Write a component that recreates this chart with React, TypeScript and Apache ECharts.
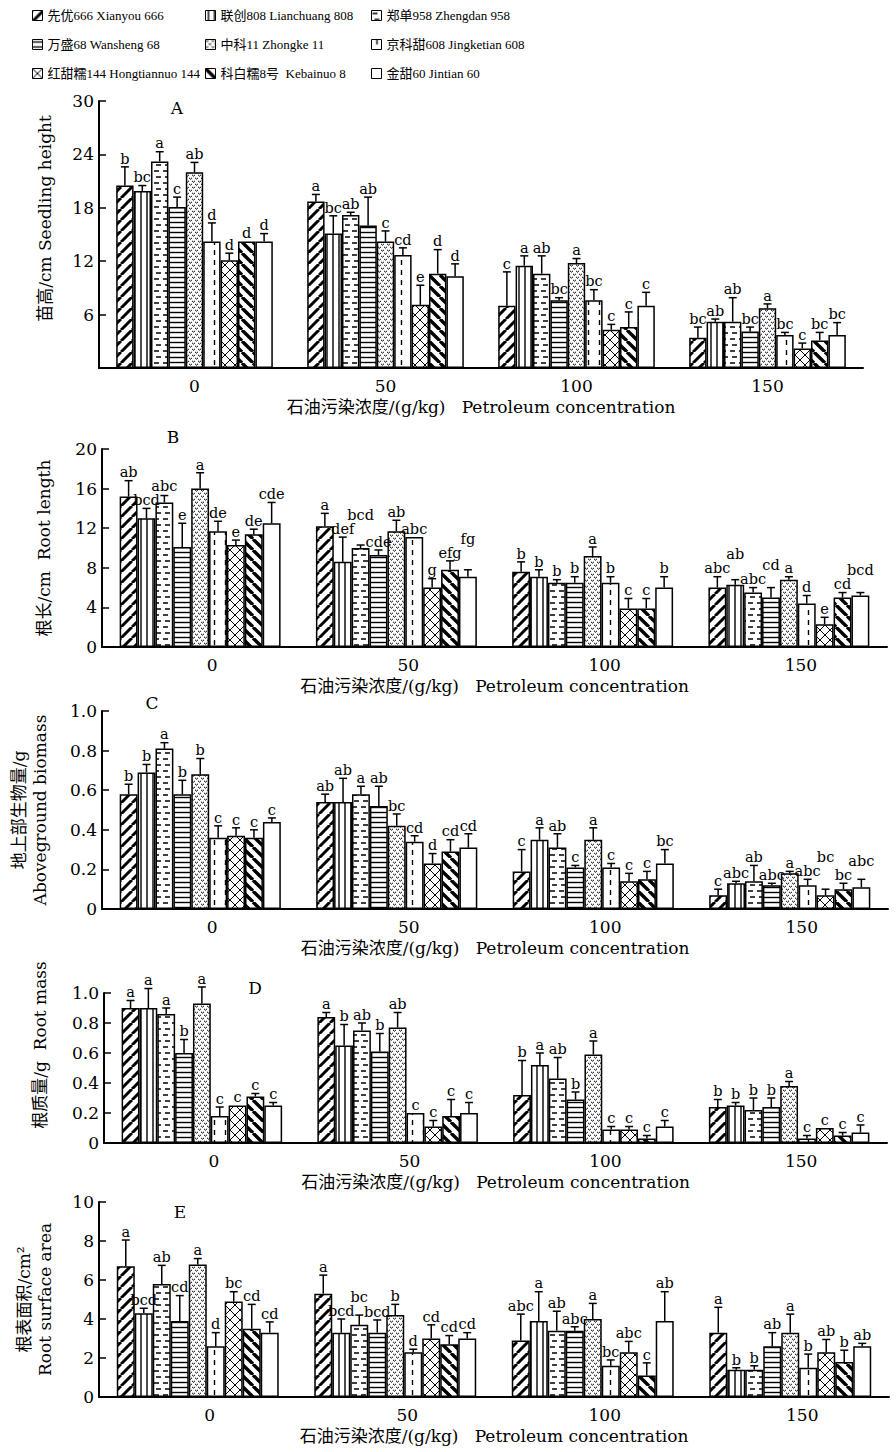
import React, { useEffect, useRef } from 'react';
import * as echarts from 'echarts';

// ---------------- data ----------------
const concentrations = ['0', '50', '100', '150'];
const varieties = [
  '先优666 Xianyou 666',
  '联创808 Lianchuang 808',
  '郑单958 Zhengdan 958',
  '万盛68 Wansheng 68',
  '中科11 Zhongke 11',
  '京科甜608 Jingketian 608',
  '红甜糯144 Hongtiannuo 144',
  '科白糯8号  Kebainuo 8',
  '金甜60 Jintian 60',
];
const patternKinds = ['diagR', 'vert', 'dash', 'horiz', 'wave', 'vdash', 'cross', 'diagL', 'none'];

// A: seedling height (cm), rows = concentration, cols = variety
const heightMean = [
  [20.5, 19.9, 23.2, 18.1, 22.0, 14.2, 12.1, 14.2, 14.2],
  [18.7, 15.1, 17.2, 16.0, 14.2, 12.7, 7.1, 10.6, 10.3],
  [7.0, 11.5, 10.6, 7.6, 11.8, 7.6, 4.3, 4.6, 7.0],
  [3.4, 5.2, 5.2, 4.1, 6.7, 3.7, 2.2, 3.1, 3.7],
];
const heightSE = [
  [2.1, 0.6, 1.1, 1.1, 1.1, 2.1, 0.8, 0, 0.9],
  [0.8, 2.0, 0.3, 3.2, 1.2, 0.8, 2.2, 2.7, 1.4],
  [3.8, 1.1, 2.0, 0.3, 0.5, 1.2, 0.6, 1.7, 1.5],
  [1.2, 0.3, 2.7, 0.5, 0.5, 0.3, 0.6, 0.9, 1.4],
];
const heightLetters = [
  ['b', 'bc', 'a', 'c', 'ab', 'd', 'd', 'd', 'd'],
  ['a', 'bc', 'ab', 'ab', 'c', 'cd', 'e', 'd', 'd'],
  ['c', 'a', 'ab', 'bc', 'a', 'bc', 'c', 'c', 'c'],
  ['bc', 'ab', 'ab', 'bc', 'a', 'bc', 'c', 'bc', 'bc'],
];

// B: root length (cm)
const rootLengthMean = [
  [15.2, 13.0, 14.6, 10.1, 16.0, 11.7, 10.3, 11.4, 12.5],
  [12.2, 8.6, 10.0, 9.3, 11.7, 11.1, 6.0, 7.8, 7.1],
  [7.6, 7.1, 6.5, 6.5, 9.2, 6.5, 3.9, 3.9, 6.0],
  [6.0, 6.3, 5.5, 5.0, 6.8, 4.4, 2.3, 5.0, 5.2],
];
const rootLengthSE = [
  [1.6, 1.0, 0.7, 2.4, 1.6, 1.0, 0.5, 0.5, 2.1],
  [1.3, 2.5, 0.3, 0.5, 1.1, 0, 0.9, 0.9, 0.7],
  [1.0, 0.7, 0.3, 0.6, 0.9, 0.6, 1.0, 1.0, 1.1],
  [1.1, 0.5, 0.5, 1.0, 0.3, 0.8, 0.7, 0.5, 0.3],
];
const rootLengthLetters = [
  ['ab', 'bcd', 'abc', 'e', 'a', 'de', 'e', 'de', 'cde'],
  ['a', 'def', 'bcd', 'cde', 'ab', 'abc', 'g', 'efg', 'fg'],
  ['b', 'b', 'b', 'b', 'a', 'b', 'c', 'c', 'b'],
  ['abc', 'ab', 'abc', 'cd', 'a', 'd', 'e', 'cd', 'bcd'],
];

// C: aboveground biomass (g)
const biomassMean = [
  [0.58, 0.69, 0.81, 0.58, 0.68, 0.36, 0.37, 0.36, 0.44],
  [0.54, 0.54, 0.58, 0.52, 0.42, 0.34, 0.23, 0.29, 0.31],
  [0.19, 0.35, 0.31, 0.21, 0.35, 0.21, 0.14, 0.15, 0.23],
  [0.07, 0.13, 0.14, 0.12, 0.18, 0.12, 0.07, 0.1, 0.11],
];
const biomassSE = [
  [0.05, 0.04, 0.03, 0.07, 0.08, 0.06, 0.04, 0.04, 0.02],
  [0.04, 0.12, 0.04, 0.1, 0.06, 0.03, 0.05, 0.06, 0.07],
  [0.11, 0.06, 0.07, 0.01, 0.06, 0.02, 0.04, 0.04, 0.07],
  [0.03, 0.01, 0.08, 0.01, 0.01, 0.03, 0.03, 0.03, 0.04],
];
const biomassLetters = [
  ['b', 'b', 'a', 'b', 'b', 'c', 'c', 'c', 'c'],
  ['ab', 'ab', 'a', 'ab', 'bc', 'cd', 'd', 'cd', 'cd'],
  ['c', 'a', 'ab', 'c', 'a', 'c', 'c', 'c', 'bc'],
  ['c', 'abc', 'ab', 'abc', 'a', 'abc', 'bc', 'bc', 'abc'],
];

// D: root mass (g)
const rootMassMean = [
  [0.9, 0.9, 0.86, 0.6, 0.93, 0.18, 0.25, 0.31, 0.25],
  [0.84, 0.65, 0.75, 0.61, 0.77, 0.2, 0.11, 0.18, 0.2],
  [0.32, 0.52, 0.43, 0.29, 0.59, 0.09, 0.09, 0.03, 0.11],
  [0.24, 0.25, 0.22, 0.24, 0.38, 0.03, 0.1, 0.05, 0.07],
];
const rootMassSE = [
  [0.05, 0.13, 0.04, 0.09, 0.11, 0.06, 0, 0.02, 0.02],
  [0.03, 0.14, 0.05, 0.12, 0.1, 0, 0.04, 0.11, 0.07],
  [0.23, 0.08, 0.14, 0.05, 0.09, 0.02, 0.02, 0.02, 0.04],
  [0.05, 0.02, 0.08, 0.06, 0.03, 0.02, 0, 0.02, 0.05],
];
const rootMassLetters = [
  ['a', 'a', 'a', 'b', 'a', 'c', 'c', 'c', 'c'],
  ['a', 'b', 'ab', 'b', 'ab', 'c', 'c', 'c', 'c'],
  ['b', 'a', 'ab', 'b', 'a', 'c', 'c', 'c', 'c'],
  ['b', 'b', 'b', 'b', 'a', 'c', 'c', 'c', 'c'],
];

// E: root surface area (cm2)
const rootAreaMean = [
  [6.7, 4.3, 5.8, 3.9, 6.8, 2.6, 4.9, 3.5, 3.3],
  [5.3, 3.3, 3.7, 3.3, 4.2, 2.3, 3.0, 2.7, 3.0],
  [2.9, 3.9, 3.4, 3.4, 4.0, 1.6, 2.3, 1.1, 3.9],
  [3.3, 1.4, 1.4, 2.6, 3.3, 1.5, 2.3, 1.8, 2.6],
];
const rootAreaSE = [
  [1.35, 0.25, 0.95, 1.3, 0.3, 0.7, 0.5, 1.25, 0.55],
  [0.95, 0.7, 0.5, 0.65, 0.55, 0.15, 0.7, 0.45, 0.3],
  [1.35, 1.5, 1.0, 0.2, 0.8, 0.3, 0.55, 0.65, 1.5],
  [1.3, 0.1, 0.2, 0.7, 0.95, 0.7, 0.65, 0.6, 0.15],
];
const rootAreaLetters = [
  ['a', 'bcd', 'ab', 'cd', 'a', 'd', 'bc', 'cd', 'cd'],
  ['a', 'bcd', 'bc', 'bcd', 'b', 'd', 'cd', 'cd', 'cd'],
  ['abc', 'a', 'ab', 'abc', 'a', 'bc', 'abc', 'c', 'ab'],
  ['a', 'b', 'b', 'ab', 'a', 'b', 'ab', 'b', 'ab'],
];

const xAxisName = '石油污染浓度/(g/kg)   Petroleum concentration';

// ---------------- styling ----------------
const SERIF = '"DejaVu Serif", "Noto Sans CJK SC", serif';
const LEGEND_FONT = '"Liberation Serif", "Noto Sans CJK SC", serif';
const BAR_FRAC = 0.82;
const LETTER_SIZE = 14.5;
const CHAR_W = 8.6;
const LINE_H = 14;

function makePattern(kind: string) {
  const c = document.createElement('canvas');
  let w = 10;
  let h = 10;
  if (kind === 'diagR' || kind === 'diagL') { w = 11; h = 11; }
  else if (kind === 'vert') { w = 6; h = 6; }
  else if (kind === 'horiz') { w = 6; h = 5; }
  else if (kind === 'dash') { w = 9; h = 12; }
  else if (kind === 'wave') { w = 6; h = 6; }
  else if (kind === 'vdash') { w = 11; h = 10; }
  else if (kind === 'cross') { w = 10; h = 10; }
  c.width = w;
  c.height = h;
  const ctx = c.getContext('2d') as CanvasRenderingContext2D;
  ctx.fillStyle = '#fff';
  ctx.fillRect(0, 0, w, h);
  ctx.strokeStyle = '#000';
  ctx.beginPath();
  switch (kind) {
    case 'diagR':
      ctx.lineWidth = 3;
      for (const k of [-1, 0, 1]) { ctx.moveTo(k * w, h); ctx.lineTo(k * w + w, 0); }
      break;
    case 'diagL':
      ctx.lineWidth = 3.4;
      for (const k of [-1, 0, 1]) { ctx.moveTo(k * w, 0); ctx.lineTo(k * w + w, h); }
      break;
    case 'vert':
      ctx.lineWidth = 1.4;
      ctx.moveTo(3, 0); ctx.lineTo(3, h);
      break;
    case 'horiz':
      ctx.lineWidth = 1.4;
      ctx.moveTo(0, 2.5); ctx.lineTo(w, 2.5);
      break;
    case 'dash':
      ctx.lineWidth = 1.3;
      ctx.moveTo(1, 3); ctx.lineTo(6, 3);
      ctx.moveTo(3, 9); ctx.lineTo(8, 9);
      break;
    case 'wave':
      ctx.lineWidth = 1;
      ctx.moveTo(0, 0.8); ctx.quadraticCurveTo(1.5, 3.6, 3, 0.8);
      ctx.moveTo(3, 3.8); ctx.quadraticCurveTo(4.5, 6.6, 6, 3.8);
      break;
    case 'vdash':
      ctx.lineWidth = 1.4;
      ctx.moveTo(5.5, 0); ctx.lineTo(5.5, 5);
      break;
    case 'cross':
      ctx.lineWidth = 1;
      ctx.moveTo(0, 0); ctx.lineTo(w, h);
      ctx.moveTo(w, 0); ctx.lineTo(0, h);
      break;
    default:
      break;
  }
  ctx.stroke();
  return { image: c, repeat: 'repeat', imageWidth: w, imageHeight: h };
}

export default function App() {
  const ref = useRef<HTMLDivElement>(null);

  useEffect(() => {
    if (!ref.current) return;
    const chart = echarts.init(ref.current, null, { renderer: 'svg' });
    const patterns = patternKinds.map(makePattern);

    const panels = [
      { mean: heightMean, se: heightSE, letters: heightLetters, max: 30, interval: 6, hideZero: true, dec: 0,
        yName: '苗高/cm Seedling height', left: 99, right: 33, top: 101, height: 267, nameGap: 44, namePad: [0, 0, 0, 32], labelPad: 0,
        tag: 'A', tx: 177, ty: 108 },
      { mean: rootLengthMean, se: rootLengthSE, letters: rootLengthLetters, max: 20, interval: 4, hideZero: false, dec: 0,
        yName: '根长/cm  Root length', left: 102, right: 9, top: 449, height: 198, nameGap: 48, namePad: 0, labelPad: [0, 0, 0, 24],
        tag: 'B', tx: 173, ty: 437 },
      { mean: biomassMean, se: biomassSE, letters: biomassLetters, max: 1, interval: 0.2, hideZero: false, dec: 1,
        yName: '地上部生物量/g\nAboveground biomass', left: 102, right: 8, top: 711, height: 198, nameGap: 52, namePad: 0, labelPad: [0, 0, 0, 24],
        tag: 'C', tx: 152, ty: 703 },
      { mean: rootMassMean, se: rootMassSE, letters: rootMassLetters, max: 1, interval: 0.2, hideZero: false, dec: 1,
        yName: '根质量/g  Root mass', left: 104, right: 9, top: 993, height: 150, nameGap: 54, namePad: [0, 0, 0, 46], labelPad: [0, 0, 0, 24],
        tag: 'D', tx: 255, ty: 988 },
      { mean: rootAreaMean, se: rootAreaSE, letters: rootAreaLetters, max: 10, interval: 2, hideZero: false, dec: 0,
        yName: '根表面积/cm²\nRoot surface area', left: 99, right: 7, top: 1202, height: 195, nameGap: 44, namePad: 0, labelPad: [0, 0, 0, 24],
        tag: 'E', tx: 180, ty: 1212 },
    ];

    const grids = panels.map((p) => ({ left: p.left, right: p.right, top: p.top, height: p.height, containLabel: false }));

    const xAxes = panels.map((p, pi) => ({
      type: 'category',
      gridIndex: pi,
      data: concentrations,
      axisLine: { lineStyle: { color: '#000', width: 2 } },
      axisTick: { inside: true, length: 6, lineStyle: { color: '#000', width: 1.5 } },
      axisLabel: { color: '#000', fontFamily: SERIF, fontSize: 17, margin: 9, padding: p.labelPad },
      name: xAxisName,
      nameLocation: 'middle',
      nameGap: 30,
      nameTextStyle: { color: '#000', fontFamily: SERIF, fontSize: 17 },
    }));

    const yAxes = panels.map((p, pi) => ({
      type: 'value',
      gridIndex: pi,
      min: 0,
      max: p.max,
      interval: p.interval,
      axisLine: { show: true, lineStyle: { color: '#000', width: 2 } },
      axisTick: { show: true, inside: true, length: 7, lineStyle: { color: '#000', width: 1.5 } },
      splitLine: { show: false },
      axisLabel: {
        color: '#000', fontFamily: SERIF, fontSize: 17, margin: 5,
        formatter: (v: number) => {
          if (v === 0) return p.hideZero ? '' : '0';
          return p.dec ? v.toFixed(p.dec) : String(v);
        },
      },
      name: p.yName,
      nameLocation: 'middle',
      nameRotate: 90,
      nameGap: p.nameGap,
      nameTextStyle: { color: '#000', fontFamily: SERIF, fontSize: 17, lineHeight: 21, padding: p.namePad },
    }));

    const series: any[] = [];
    panels.forEach((p, pi) => {
      varieties.forEach((name, vi) => {
        series.push({
          type: 'bar',
          name,
          xAxisIndex: pi,
          yAxisIndex: pi,
          data: concentrations.map((_, gi) => p.mean[gi][vi]),
          barWidth: (BAR_FRAC / 9 * 100).toFixed(3) + '%',
          barGap: '0%',
          silent: true,
          itemStyle: { color: patterns[vi], borderColor: '#000', borderWidth: 1.5 },
        });
      });
      const rows: number[][] = [];
      concentrations.forEach((_, gi) => {
        varieties.forEach((__, vi) => {
          rows.push([gi, vi, p.mean[gi][vi], p.mean[gi][vi] + p.se[gi][vi]]);
        });
      });

      // label bottoms per group, nudged upward only where two letter labels would collide
      const labelBottoms = (api: any, g: number) => {
        const band = api.size([1, 0])[0];
        const bw = (band * BAR_FRAC) / 9;
        const placed: { x: number; y: number; w: number }[] = [];
        for (let j = 0; j < varieties.length; j++) {
          const c = api.coord([g, p.mean[g][j] + p.se[g][j]]);
          const x = c[0] + (j - 4) * bw;
          const w = p.letters[g][j].length * CHAR_W;
          let y = c[1] - 1;
          let moved = true;
          while (moved) {
            moved = false;
            for (const q of placed) {
              const hOverlap = Math.abs(q.x - x) < (q.w + w) / 2 - 1;
              const vOverlap = Math.abs(q.y - y) < LINE_H;
              if (hOverlap && vOverlap) {
                y = q.y - LINE_H;
                moved = true;
              }
            }
          }
          placed.push({ x, y, w });
        }
        return placed.map((q) => q.y);
      };

      series.push({
        type: 'custom',
        xAxisIndex: pi,
        yAxisIndex: pi,
        z: 5,
        silent: true,
        data: rows,
        encode: { x: 0, y: 3 },
        renderItem: (params: any, api: any) => {
          const g = api.value(0);
          const i = api.value(1);
          const m = api.value(2);
          const t = api.value(3);
          const base = api.coord([g, m]);
          const top = api.coord([g, t]);
          const band = api.size([1, 0])[0];
          const bw = (band * BAR_FRAC) / 9;
          const x = base[0] + (i - 4) * bw;
          const ly = labelBottoms(api, g)[i];
          const children: any[] = [];
          if (t > m) {
            children.push({ type: 'line', shape: { x1: x, y1: base[1], x2: x, y2: top[1] }, style: { stroke: '#000', lineWidth: 1.5 } });
            children.push({ type: 'line', shape: { x1: x - 4, y1: top[1], x2: x + 4, y2: top[1] }, style: { stroke: '#000', lineWidth: 1.5 } });
          }
          children.push({
            type: 'text',
            x,
            y: ly,
            style: {
              text: p.letters[g][i],
              fill: '#000',
              font: LETTER_SIZE + 'px ' + SERIF,
              textAlign: 'center',
              textVerticalAlign: 'bottom',
            },
          });
          return { type: 'group', children };
        },
      });
    });

    const legendCols = [[0, 3, 6], [1, 4, 7], [2, 5, 8]];
    const legendLeft = [27, 200, 366];
    const legends = legendCols.map((col, ci) => ({
      orient: 'vertical',
      left: legendLeft[ci],
      top: 2,
      itemWidth: 10,
      itemHeight: 10,
      itemGap: 12,
      icon: 'rect',
      selectedMode: false,
      data: col.map((i) => varieties[i]),
      textStyle: { color: '#000', fontFamily: LEGEND_FONT, fontSize: 13, lineHeight: 17 },
      itemStyle: { borderColor: '#000', borderWidth: 1 },
    }));

    const graphic = panels.map((p) => ({
      type: 'text',
      x: p.tx,
      y: p.ty,
      style: { text: p.tag, fill: '#000', font: '17px ' + SERIF, textAlign: 'center', textVerticalAlign: 'middle' },
    }));

    chart.setOption({
      animation: false,
      backgroundColor: '#fff',
      legend: legends,
      grid: grids,
      xAxis: xAxes,
      yAxis: yAxes,
      series,
      graphic,
    });

    return () => {
      chart.dispose();
    };
  }, []);

  return (
    <div
      ref={ref}
      style={{ position: 'absolute', left: 0, top: 0, width: 896, height: 1452, background: '#fff' }}
    />
  );
}
